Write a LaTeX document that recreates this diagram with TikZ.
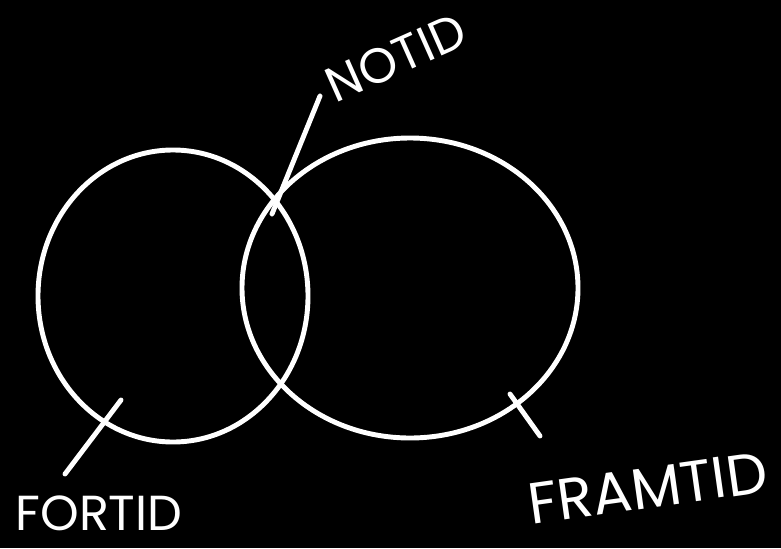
\documentclass[tikz,border=0pt]{standalone}
\usepackage{fontspec}
\setmainfont{Poppins}
\usetikzlibrary{positioning, calc}
\definecolor{BoardBlack}{HTML}{000000}
\definecolor{ChalkWhite}{HTML}{FFFFFF}
\tikzset{
    % Chalk strokes
    chalkline/.style={
        draw=ChalkWhite,
        line width=2.8pt,
        line cap=round
    },
    % Hand lettered labels
    chalklabel/.style={
        text=ChalkWhite,
        inner sep=0pt,
        font=\fontsize{28}{28}\selectfont
    }
}
\begin{document}
\begin{tikzpicture}[x=0.02cm,y=-0.02cm]
                % Board
                \fill[BoardBlack] (0,0) rectangle (781,548);
                \useasboundingbox (0,0) rectangle (781,548);

                % Two time circles
                \draw[chalkline] (173,296) ellipse [x radius=135, y radius=146];
                \draw[chalkline] (410,288) ellipse [x radius=168, y radius=150];

                % Labels
                \node[chalklabel,rotate=24] (now) at (396,58) {NOTID};
                \node[chalklabel] (past) at (99,513) {FORTID};
                \node[chalklabel,rotate=8,font=\fontsize{33}{33}\selectfont] (future) at (648,488) {FRAMTID};

                % Points inside the areas
                \coordinate (nowpt) at (272,214);
                \coordinate (pastpt) at (121,400);
                \coordinate (futurept) at (510,394);

                % Leader lines
                \draw[chalkline] (nowpt) -- ($(now)+(-76,38)$);
                \draw[chalkline] (pastpt) -- ($(past)+(-34,-39)$);
                \draw[chalkline] (futurept) -- ($(future)+(-108,-52)$);
            \end{tikzpicture}
\end{document}
